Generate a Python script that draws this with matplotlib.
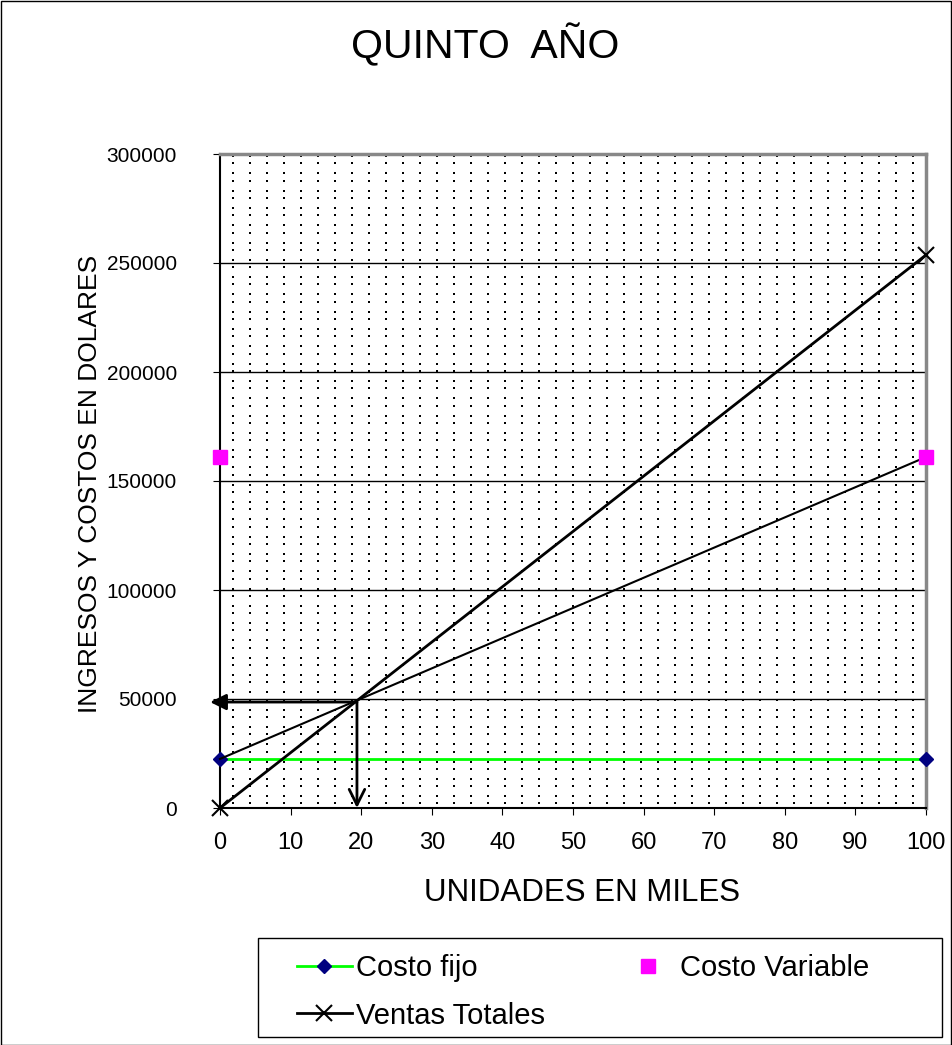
# Punto de equilibrio - quinto año
import numpy as np
import matplotlib
matplotlib.use('Agg')
import matplotlib.pyplot as plt
from matplotlib.lines import Line2D

plt.rcParams['font.family'] = ['Liberation Sans', 'DejaVu Sans']

# datos
unidades = [0, 100]                 # miles de unidades
costo_fijo = [22500, 22500]
costo_variable = [161000, 161000]   # solo marcadores
costo_total = [22500, 161000]
ventas_totales = [0, 253700]
equilibrio_x = 19.4
equilibrio_y = 48600

x_ticks = list(range(0, 101, 10))
y_ticks = list(range(0, 300001, 50000))

W, H = 952, 1045
fig = plt.figure(figsize=(W / 100, H / 100), dpi=100)
ax = fig.add_axes([220 / W, 1 - 808 / H, 706 / W, 654 / H])

# fondo punteado (textura tipo Excel)
cols = (np.arange(13, 706, 17)) / 706
rows = []
for p in np.arange(2, 654, 17.3):
    rows += [p, p + 7.3]
rows = 1 - np.array([r for r in rows if r < 652]) / 654
gx, gy = np.meshgrid(cols, rows)
ax.scatter(gx.ravel(), gy.ravel(), s=2.2, marker='s', color='black',
           linewidths=0, transform=ax.transAxes, zorder=0)

# lineas de division horizontales
for yv in y_ticks[1:-1]:
    ax.axhline(yv, color='black', lw=1, zorder=1)

# series
ax.plot(unidades, costo_fijo, color='#00ff00', lw=2, marker='D', ms=7.5,
        mfc='#000080', mec='#000080', clip_on=False, zorder=3)
ax.plot(unidades, costo_total, color='black', lw=1.5, zorder=3, clip_on=False)
ax.plot(unidades, ventas_totales, color='black', lw=2, marker='x', ms=11,
        mew=1.5, clip_on=False, zorder=4)
ax.plot(unidades, costo_variable, ls='none', marker='s', ms=10.5,
        color='#ff00ff', clip_on=False, zorder=4)

# flechas del punto de equilibrio
ax.annotate('', xy=(-1.4, equilibrio_y), xytext=(equilibrio_x, equilibrio_y),
            arrowprops=dict(arrowstyle='-|>', color='black', lw=2,
                            mutation_scale=24, shrinkA=0, shrinkB=0),
            annotation_clip=False, zorder=5)
ax.annotate('', xy=(equilibrio_x, 0), xytext=(equilibrio_x, equilibrio_y),
            arrowprops=dict(arrowstyle='->', color='black', lw=2,
                            mutation_scale=28, shrinkA=0, shrinkB=0),
            annotation_clip=False, zorder=5)

ax.set_xlim(0, 100)
ax.set_ylim(0, 300000)
ax.set_xticks(x_ticks)
ax.set_yticks(y_ticks)
ax.tick_params(axis='x', direction='out', length=5, pad=12, labelsize=17)
ax.tick_params(axis='y', direction='out', length=5, pad=26, labelsize=15)
for s in ['left', 'bottom']:
    ax.spines[s].set_linewidth(1.5)
for s in ['top', 'right']:
    ax.spines[s].set_color('#888888')
    ax.spines[s].set_linewidth(2.5)

fig.text(485 / W, 1 - 45 / H, 'QUINTO  AÑO', fontsize=29.5, ha='center', va='center')
fig.text(582 / W, 1 - 893 / H, 'UNIDADES EN MILES', fontsize=22.5, ha='center', va='center')
fig.text(90 / W, 1 - 484 / H, 'INGRESOS Y COSTOS EN DOLARES', fontsize=19,
         rotation=90, ha='center', va='center')

# leyenda (marco dibujado aparte)
fig.patches.append(plt.Rectangle((258 / W, 1 - 1037 / H), 684 / W, 99 / H,
                                 transform=fig.transFigure, fill=False,
                                 edgecolor='black', lw=1))
h_fijo = Line2D([], [], color='#00ff00', lw=2, marker='D', ms=7.5,
                mfc='#000080', mec='#000080')
h_var = Line2D([], [], ls='none', marker='s', ms=10.5, color='#ff00ff')
h_ventas = Line2D([], [], color='black', lw=2, marker='x', ms=11, mew=1.5)
fig.legend([h_fijo, h_ventas, h_var],
           ['Costo fijo', 'Ventas Totales', 'Costo Variable'],
           ncol=2, loc='upper left', bbox_to_anchor=(297 / W, 1 - 954 / H),
           fontsize=21, frameon=False, handlelength=1.88,
           handletextpad=0.14, labelspacing=0.67, borderpad=0,
           borderaxespad=0, columnspacing=2.6)

# marco exterior
fig.patches.append(plt.Rectangle((0.5 / W, 0.5 / H), 1 - 1.5 / W, 1 - 1.5 / H,
                                 transform=fig.transFigure, fill=False,
                                 edgecolor='black', lw=1))

fig.savefig('out.png', dpi=100)
